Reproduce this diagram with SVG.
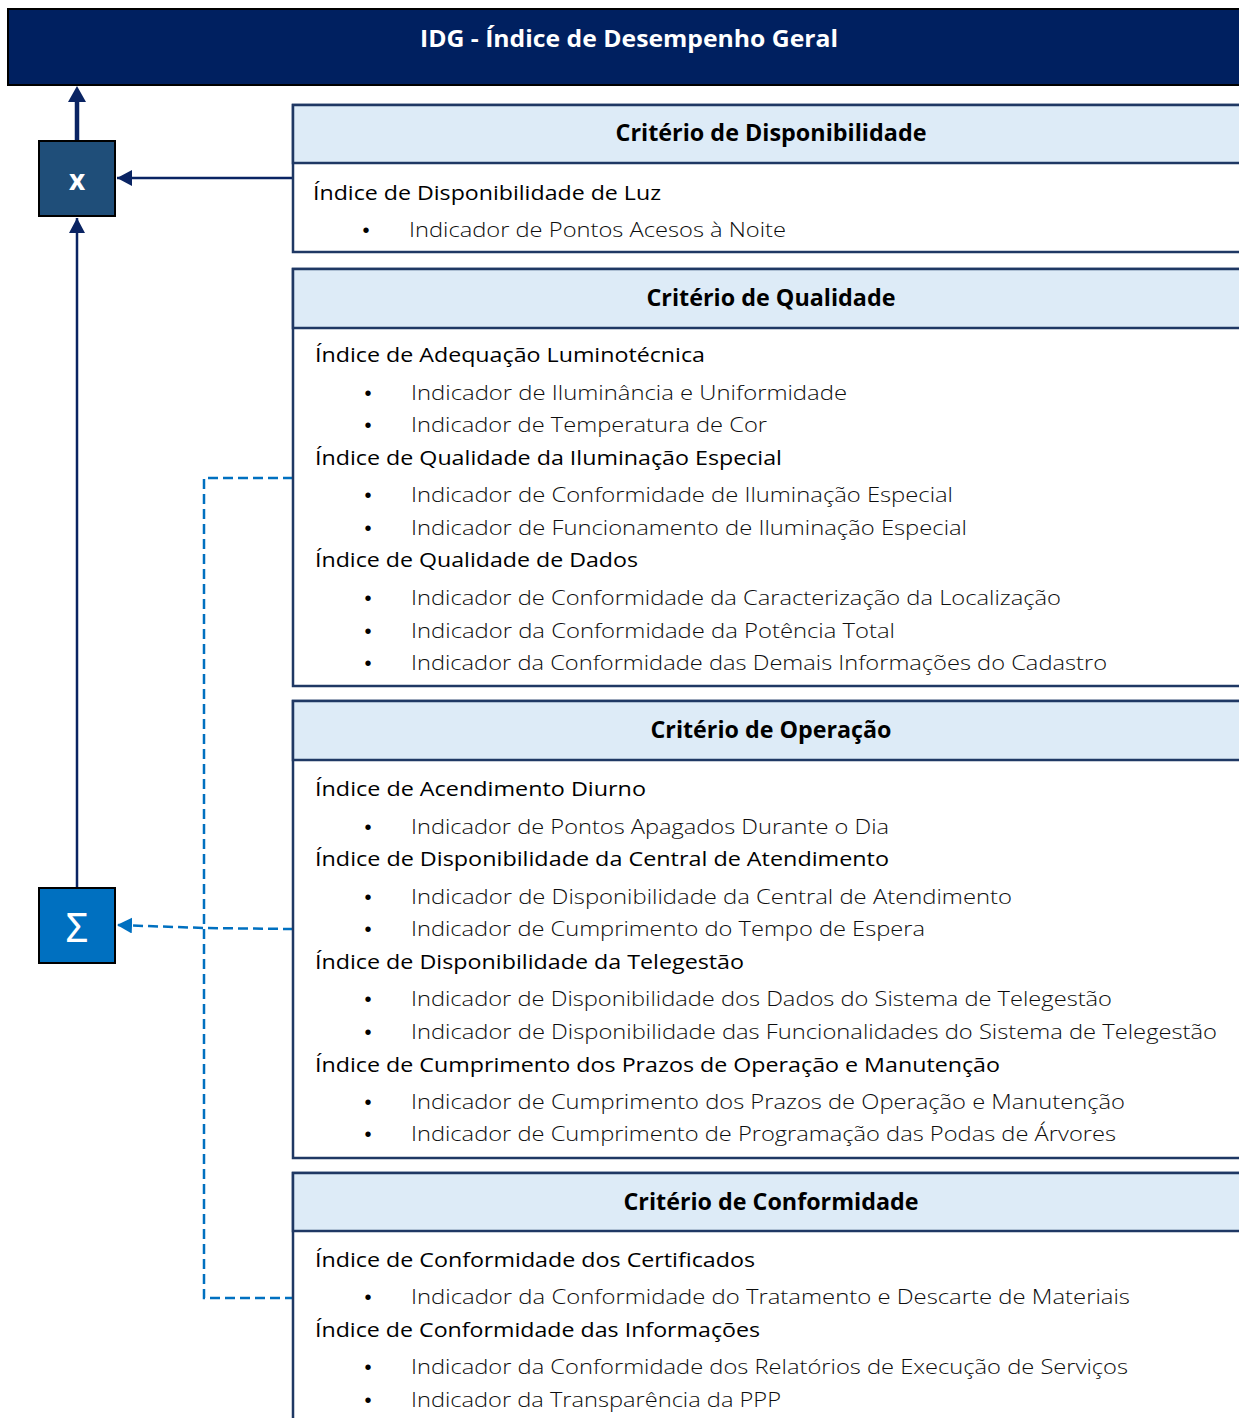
<svg xmlns="http://www.w3.org/2000/svg" width="1239" height="1418" viewBox="0 0 1239 1418">
<style>
.box{fill:#ffffff;stroke:#1F3864;stroke-width:2.5}
.hdr{fill:#DDEBF7;stroke:#1F3864;stroke-width:2.5}
.ht{font-family:"Open Sans","Liberation Sans",sans-serif;font-weight:700;font-size:23px;fill:#000;text-anchor:middle}
.ix{font-family:"Open Sans","Liberation Sans",sans-serif;font-size:20.5px;fill:#000}
.it{font-family:"Open Sans","Liberation Sans",sans-serif;font-size:20.5px;font-weight:300;fill:#0d0d0d}
.bl{font-family:"Liberation Sans",sans-serif;font-size:20px;fill:#000;text-anchor:middle}
.sol{stroke:#0A2463;stroke-width:2.5;fill:none}
.dash{stroke:#0070C0;stroke-width:2.5;fill:none;stroke-dasharray:10 5}
</style>
<defs>
<marker id="ah" markerUnits="userSpaceOnUse" markerWidth="16" markerHeight="16" refX="15" refY="8" orient="auto">
<path d="M0,0 L15,8 L0,16 Z" fill="#0A2463"/>
</marker>
<marker id="ahd" markerUnits="userSpaceOnUse" markerWidth="16" markerHeight="16" refX="15" refY="8" orient="auto">
<path d="M0,0 L15,8 L0,16 Z" fill="#0070C0"/>
</marker>
</defs>
<rect width="1239" height="1418" fill="#ffffff"/>

<g id="banner">
<rect x="8" y="9" width="1240" height="76" fill="#002060" stroke="#000" stroke-width="2"/>
<text x="629" y="47" class="ht" style="fill:#ffffff" textLength="418" lengthAdjust="spacingAndGlyphs">IDG - Índice de Desempenho Geral</text>
</g>

<g id="connectors">
<line x1="77" y1="140" x2="77" y2="101" stroke="#0A2463" stroke-width="4.5"/>
<path d="M68,102 L77,86 L86,102 Z" fill="#0A2463"/>
<line x1="293" y1="178" x2="117" y2="178" class="sol" marker-end="url(#ah)"/>
<line x1="77" y1="887" x2="77" y2="218" class="sol" marker-end="url(#ah)"/>
<path d="M293,478 H204 V1298 H293" class="dash"/>
<path d="M293,929 L204,928 L117,925" class="dash" marker-end="url(#ahd)"/>
</g>

<g id="op-x">
<rect x="39" y="141" width="76" height="75" fill="#1F4E79" stroke="#000" stroke-width="2"/>
<text x="77" y="190" font-family="Open Sans, Liberation Sans, sans-serif" font-weight="700" font-size="28" fill="#ffffff" text-anchor="middle">x</text>
</g>

<g id="op-sum">
<rect x="39" y="888" width="76" height="75" fill="#0070C0" stroke="#000" stroke-width="2"/>
<text x="77" y="942" font-family="Noto Sans, DejaVu Sans, sans-serif" font-size="40" fill="#ffffff" text-anchor="middle">Σ</text>
</g>

<g id="disponibilidade">
<rect x="293" y="105" width="960" height="147" class="box"/>
<rect x="293" y="105" width="960" height="58" class="hdr"/>
<text x="771" y="141" class="ht" textLength="311" lengthAdjust="spacingAndGlyphs">Critério de Disponibilidade</text>
<text x="313" y="200" class="ix" textLength="348" lengthAdjust="spacingAndGlyphs">Índice de Disponibilidade de Luz</text>
<text x="366" y="237" class="bl">•</text>
<text x="409" y="237" class="it" textLength="377" lengthAdjust="spacingAndGlyphs">Indicador de Pontos Acesos à Noite</text>
</g>

<g id="qualidade">
<rect x="293" y="269" width="960" height="417" class="box"/>
<rect x="293" y="269" width="960" height="59" class="hdr"/>
<text x="771" y="306" class="ht" textLength="249" lengthAdjust="spacingAndGlyphs">Critério de Qualidade</text>
<text x="315" y="362" class="ix" textLength="390" lengthAdjust="spacingAndGlyphs">Índice de Adequação Luminotécnica</text>
<text x="368" y="400" class="bl">•</text>
<text x="411" y="400" class="it" textLength="436" lengthAdjust="spacingAndGlyphs">Indicador de Iluminância e Uniformidade</text>
<text x="368" y="432" class="bl">•</text>
<text x="411" y="432" class="it" textLength="356" lengthAdjust="spacingAndGlyphs">Indicador de Temperatura de Cor</text>
<text x="315" y="465" class="ix" textLength="467" lengthAdjust="spacingAndGlyphs">Índice de Qualidade da Iluminação Especial</text>
<text x="368" y="502" class="bl">•</text>
<text x="411" y="502" class="it" textLength="542" lengthAdjust="spacingAndGlyphs">Indicador de Conformidade de Iluminação Especial</text>
<text x="368" y="535" class="bl">•</text>
<text x="411" y="535" class="it" textLength="556" lengthAdjust="spacingAndGlyphs">Indicador de Funcionamento de Iluminação Especial</text>
<text x="315" y="567" class="ix" textLength="323" lengthAdjust="spacingAndGlyphs">Índice de Qualidade de Dados</text>
<text x="368" y="605" class="bl">•</text>
<text x="411" y="605" class="it" textLength="650" lengthAdjust="spacingAndGlyphs">Indicador de Conformidade da Caracterização da Localização</text>
<text x="368" y="638" class="bl">•</text>
<text x="411" y="638" class="it" textLength="484" lengthAdjust="spacingAndGlyphs">Indicador da Conformidade da Potência Total</text>
<text x="368" y="670" class="bl">•</text>
<text x="411" y="670" class="it" textLength="696" lengthAdjust="spacingAndGlyphs">Indicador da Conformidade das Demais Informações do Cadastro</text>
</g>

<g id="operacao">
<rect x="293" y="701" width="960" height="457" class="box"/>
<rect x="293" y="701" width="960" height="59" class="hdr"/>
<text x="771" y="738" class="ht" textLength="241" lengthAdjust="spacingAndGlyphs">Critério de Operação</text>
<text x="315" y="796" class="ix" textLength="331" lengthAdjust="spacingAndGlyphs">Índice de Acendimento Diurno</text>
<text x="368" y="834" class="bl">•</text>
<text x="411" y="834" class="it" textLength="478" lengthAdjust="spacingAndGlyphs">Indicador de Pontos Apagados Durante o Dia</text>
<text x="315" y="866" class="ix" textLength="574" lengthAdjust="spacingAndGlyphs">Índice de Disponibilidade da Central de Atendimento</text>
<text x="368" y="904" class="bl">•</text>
<text x="411" y="904" class="it" textLength="601" lengthAdjust="spacingAndGlyphs">Indicador de Disponibilidade da Central de Atendimento</text>
<text x="368" y="936" class="bl">•</text>
<text x="411" y="936" class="it" textLength="514" lengthAdjust="spacingAndGlyphs">Indicador de Cumprimento do Tempo de Espera</text>
<text x="315" y="969" class="ix" textLength="429" lengthAdjust="spacingAndGlyphs">Índice de Disponibilidade da Telegestão</text>
<text x="368" y="1006" class="bl">•</text>
<text x="411" y="1006" class="it" textLength="701" lengthAdjust="spacingAndGlyphs">Indicador de Disponibilidade dos Dados do Sistema de Telegestão</text>
<text x="368" y="1039" class="bl">•</text>
<text x="411" y="1039" class="it" textLength="806" lengthAdjust="spacingAndGlyphs">Indicador de Disponibilidade das Funcionalidades do Sistema de Telegestão</text>
<text x="315" y="1072" class="ix" textLength="685" lengthAdjust="spacingAndGlyphs">Índice de Cumprimento dos Prazos de Operação e Manutenção</text>
<text x="368" y="1109" class="bl">•</text>
<text x="411" y="1109" class="it" textLength="714" lengthAdjust="spacingAndGlyphs">Indicador de Cumprimento dos Prazos de Operação e Manutenção</text>
<text x="368" y="1141" class="bl">•</text>
<text x="411" y="1141" class="it" textLength="705" lengthAdjust="spacingAndGlyphs">Indicador de Cumprimento de Programação das Podas de Árvores</text>
</g>

<g id="conformidade">
<rect x="293" y="1173" width="960" height="260" class="box"/>
<rect x="293" y="1173" width="960" height="58" class="hdr"/>
<text x="771" y="1210" class="ht" textLength="295" lengthAdjust="spacingAndGlyphs">Critério de Conformidade</text>
<text x="315" y="1267" class="ix" textLength="440" lengthAdjust="spacingAndGlyphs">Índice de Conformidade dos Certificados</text>
<text x="368" y="1304" class="bl">•</text>
<text x="411" y="1304" class="it" textLength="719" lengthAdjust="spacingAndGlyphs">Indicador da Conformidade do Tratamento e Descarte de Materiais</text>
<text x="315" y="1337" class="ix" textLength="445" lengthAdjust="spacingAndGlyphs">Índice de Conformidade das Informações</text>
<text x="368" y="1374" class="bl">•</text>
<text x="411" y="1374" class="it" textLength="717" lengthAdjust="spacingAndGlyphs">Indicador da Conformidade dos Relatórios de Execução de Serviços</text>
<text x="368" y="1407" class="bl">•</text>
<text x="411" y="1407" class="it" textLength="370" lengthAdjust="spacingAndGlyphs">Indicador da Transparência da PPP</text>
</g>
</svg>
